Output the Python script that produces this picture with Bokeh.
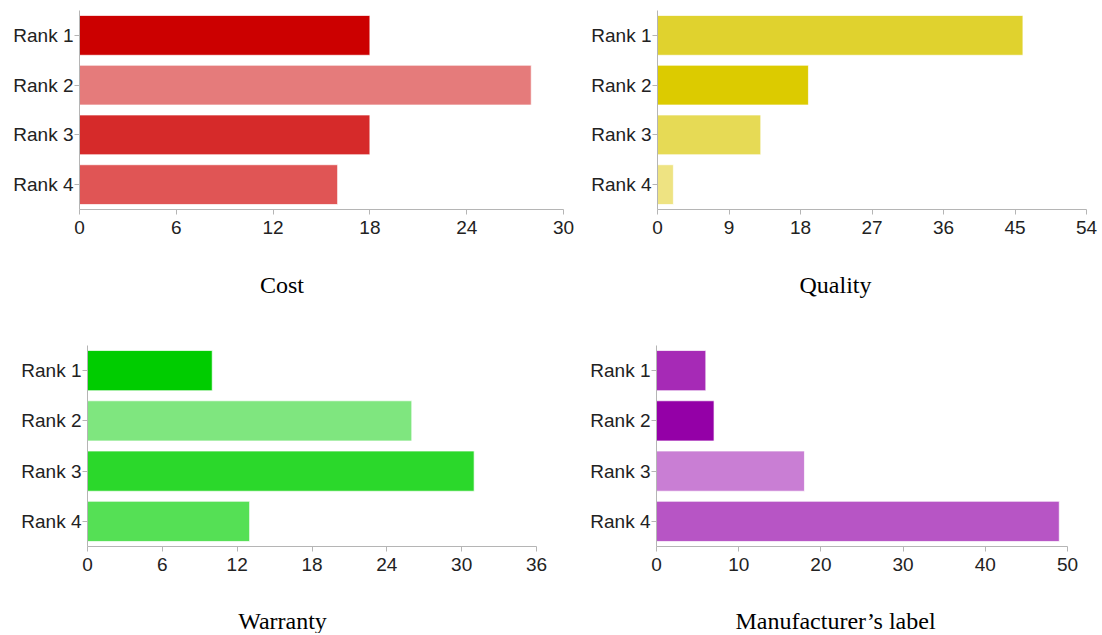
from bokeh.plotting import figure
from bokeh.models import Range1d, FactorRange, FixedTicker, ColumnDataSource
from bokeh.layouts import column, row
from bokeh.core.properties import value
from bokeh.embed import file_html
from bokeh.resources import INLINE

# ---- data ----
categories = ["Rank 1", "Rank 2", "Rank 3", "Rank 4"]

cost_values = [18, 28, 18, 16]
quality_values = [46, 19, 13, 2]
warranty_values = [10, 26, 31, 13]
label_values = [6, 7, 18, 49]

cost_colors = ["#cc0000", "#e57b7b", "#d62a2a", "#e05555"]
quality_colors = ["#e0d22e", "#dccb00", "#e6da55", "#eee382"]
warranty_colors = ["#00cc00", "#7fe67f", "#2bd82b", "#55e055"]
label_colors = ["#a62ab6", "#9400a7", "#c97ed4", "#b755c5"]

cost_ticks = [0, 6, 12, 18, 24, 30]
quality_ticks = [0, 9, 18, 27, 36, 45, 54]
warranty_ticks = [0, 6, 12, 18, 24, 30, 36]
label_ticks = [0, 10, 20, 30, 40, 50]

titles = ["Cost", "Quality", "Warranty", "Manufacturer\u2019s label"]

AXIS_COLOR = "#b5b5b5"
TEXT_COLOR = "#222222"


def panel(values, colors, ticks, width, height, left, right, top, bottom):
    p = figure(width=width, height=height, output_backend="svg",
               toolbar_location=None,
               x_range=Range1d(ticks[0], ticks[-1]),
               y_range=FactorRange(factors=list(reversed(categories)),
                                   range_padding=0),
               min_border_left=left, min_border_right=right,
               min_border_top=top, min_border_bottom=bottom)
    src = ColumnDataSource(dict(cat=categories, val=values, col=colors))
    p.hbar(y="cat", right="val", left=0, height=0.8, source=src,
           fill_color="col", line_color="white", line_alpha=0.7,
           line_width=1)
    p.xaxis.ticker = FixedTicker(ticks=ticks)
    for ax in (p.xaxis, p.yaxis):
        ax.axis_line_color = AXIS_COLOR
        ax.major_tick_line_color = AXIS_COLOR
        ax.minor_tick_line_color = None
        ax.major_tick_out = 5
        ax.major_tick_in = 0
        ax.major_label_text_font = "Liberation Sans"
        ax.major_label_text_font_size = "19px"
        ax.major_label_text_color = TEXT_COLOR
    p.xaxis.major_label_standoff = 6
    p.yaxis.major_label_standoff = 1
    p.xgrid.grid_line_color = None
    p.ygrid.grid_line_color = None
    p.outline_line_color = None
    return p


def title_strip(text, width, height, cx, base):
    t = figure(width=width, height=height, output_backend="svg",
               toolbar_location=None, x_axis_type=None, y_axis_type=None,
               x_range=Range1d(0, width), y_range=Range1d(0, height),
               min_border=0, min_border_left=0, min_border_right=0,
               min_border_top=0, min_border_bottom=0)
    t.xgrid.grid_line_color = None
    t.ygrid.grid_line_color = None
    t.outline_line_color = None
    t.text(x=[cx], y=[base], text=[text], text_align="center",
           text_baseline="alphabetic", text_font=value("Liberation Serif"),
           text_font_size="24px", text_color="black")
    return t


LW, RW = 587, 513

p1 = panel(cost_values, cost_colors, cost_ticks, LW, 260, 79, 24, 10, 51)
p2 = panel(quality_values, quality_colors, quality_ticks, RW, 260, 70, 14, 10, 51)
t1 = title_strip(titles[0], LW, 50, 281.5, 26)
t2 = title_strip(titles[1], RW, 50, 248, 26)

p3 = panel(warranty_values, warranty_colors, warranty_ticks, LW, 275, 87, 51, 35, 39)
p4 = panel(label_values, label_colors, label_ticks, RW, 275, 69, 33, 35, 39)
t3 = title_strip(titles[2], LW, 48, 282, 13)
t4 = title_strip(titles[3], RW, 48, 248, 13)

layout = column(row(p1, p2), row(t1, t2), row(p3, p4), row(t3, t4))

with open("out.html", "w") as f:
    f.write(file_html(layout, INLINE))
